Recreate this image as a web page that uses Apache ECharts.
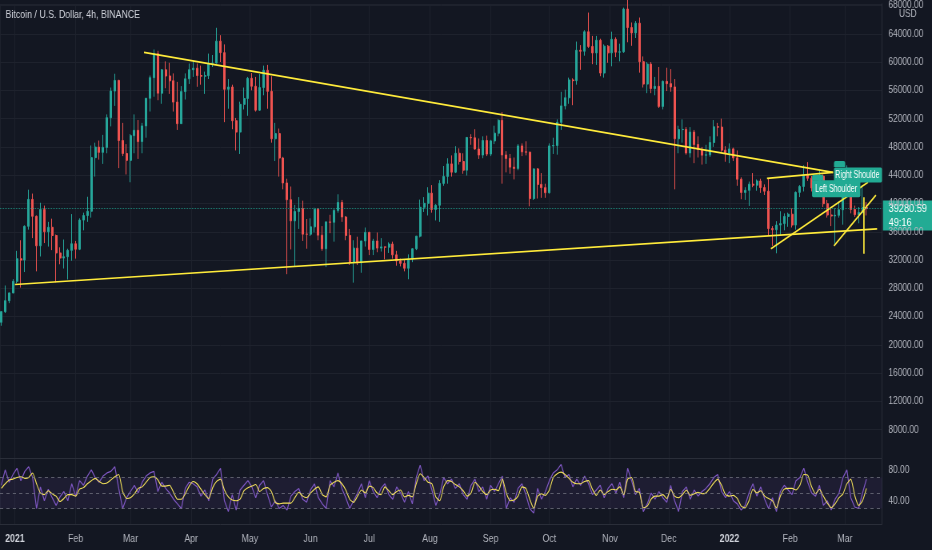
<!DOCTYPE html>
<html lang="en">
<head>
<meta charset="UTF-8">
<title>Bitcoin / U.S. Dollar, 4h</title>
<script src="https://cdn.jsdelivr.net/npm/echarts@6/dist/echarts.min.js"></script>
<style>
    html, body { margin: 0; padding: 0; background: #131722; overflow: hidden; }
    /* the source screenshot is squeezed sideways, so draw wider and scale down */
    #main { width: 1165px; height: 550px; transform: scaleX(0.8); transform-origin: 0 0; }
</style>
</head>
<body>
<div id="main"></div>
<script>
    var DAY = 86400000;
    var SX = 0.8; // horizontal squeeze of the page
    // each bar covers 2 days, first bar centred on 25 Dec 2020
    var firstBar = Date.UTC(2020, 11, 25);
    var barDays = 2;
    var firstOpen = 23200;

    var closes = [
        24700, 26250, 27350, 28990, 32180, 31990, 36770, 40580, 38190, 34010,
        39150, 36000, 36630, 35470, 33000, 32280, 32470, 33370, 34300, 33530,
        37650, 38290, 38900, 46480, 47970, 47230, 47930, 52130, 55900, 57400,
        48900, 47070, 46100, 49590, 50350, 48750, 50970, 54880, 57790, 61180,
        55600, 58900, 58030, 57350, 54340, 51290, 55820, 57630, 58920, 59130,
        58100, 58000, 58080, 59770, 59860, 62960, 61330, 56150, 56470, 51700,
        50100, 54020, 54850, 57700, 56580, 53200, 56390, 58840, 55860, 49150,
        49880, 46430, 42900, 40530, 37540, 38870, 39290, 35660, 35650, 36690,
        39190, 35520, 33590, 37390, 37340, 39020, 40140, 38090, 35480, 31680,
        33680, 31600, 34700, 35910, 33500, 34690, 33690, 33860, 33820, 34260,
        32730, 31880, 31530, 30840, 32140, 33590, 35380, 39460, 40020, 41460,
        39150, 39750, 42840, 43830, 45600, 44430, 47100, 45940, 44710, 49340,
        49290, 47700, 46850, 48900, 46990, 48850, 49940, 51760, 46860, 46370,
        45140, 44960, 48140, 47300, 47260, 40690, 44890, 42700, 42240, 41520,
        48140, 48200, 51470, 53800, 54950, 57470, 57370, 61670, 61530, 64280,
        62210, 61290, 63080, 58450, 62250, 61300, 63220, 61400, 61450, 67500,
        64880, 64120, 65500, 60050, 56890, 59710, 56260, 56570, 53730, 57270,
        56950, 56480, 49150, 50450, 50470, 47140, 50100, 48340, 47630, 46830,
        46880, 48620, 50840, 50800, 47540, 47120, 47720, 46450, 43430, 41560,
        41860, 42730, 42590, 43180, 42250, 41740, 36450, 36280, 36950, 37150,
        38170, 38480, 36950, 41570, 42410, 44040, 43570, 42200, 42540, 43870,
        39970, 38370, 38230, 38330, 39110, 43190, 43920, 39150, 38420, 38730,
        39420, 39280.59
    ];
    var highs = [
        24790, 28400, 27400, 29300, 33300, 34800, 36900, 41950, 41400, 38300,
        40100, 39700, 37400, 37850, 35600, 33800, 34900, 33600, 38500, 34700,
        37900, 38700, 40950, 48200, 48600, 48900, 49700, 52600, 56400, 58350,
        57500, 51400, 48400, 49800, 52600, 51800, 51400, 54900, 58100, 61780,
        61600, 59000, 60100, 59900, 58400, 57200, 56600, 58400, 59800, 60200,
        59800, 59500, 58650, 61200, 61000, 64850, 63800, 62500, 57600, 56800,
        52100, 54400, 56400, 57900, 58450, 57900, 58300, 59500, 59600, 58000,
        51400, 50600, 46600, 43500, 42400, 39800, 40900, 40400, 37800, 37900,
        39400, 39300, 36800, 37500, 38400, 39200, 41300, 40500, 38200, 36400,
        34800, 35300, 34700, 36600, 36000, 35000, 35900, 35100, 33900, 34500,
        34600, 33300, 32200, 32000, 32800, 33650, 35400, 40550, 40900, 42300,
        42600, 39900, 43300, 45300, 46400, 46800, 48100, 47800, 47100, 49400,
        49800, 50500, 49200, 49500, 49600, 49000, 51000, 51900, 52920, 47400,
        47000, 46500, 48400, 48500, 48800, 47300, 44950, 45000, 44300, 42800,
        48500, 49300, 51900, 55800, 56100, 57800, 57700, 62900, 62400, 64500,
        67000, 63700, 63700, 63300, 62500, 62400, 64300, 63500, 62600, 67700,
        69000, 65600, 65800, 66300, 60800, 60000, 60000, 57900, 59300, 57400,
        59200, 59000, 57600, 51000, 51900, 50800, 50800, 50400, 49500, 48000,
        48300, 49500, 51800, 51400, 52000, 48100, 48500, 47900, 47500, 43700,
        42300, 43100, 44300, 43400, 43500, 42700, 43500, 36800, 37500, 38900,
        38600, 38700, 39300, 41700, 42600, 45400, 45850, 43900, 42800, 44700,
        44100, 40500, 39500, 39300, 40300, 44000, 45400, 44100, 39700, 39500,
        42600, 40200
    ];
    var lows = [
        22700, 24500, 25900, 27300, 28700, 28100, 30300, 36300, 35100, 30400,
        32500, 34400, 33900, 33400, 28850, 31400, 30800, 29250, 31900, 32200,
        33400, 36200, 37400, 38000, 43800, 46200, 45600, 47100, 50900, 53800,
        45000, 46700, 44100, 43000, 47100, 46300, 47100, 49300, 53000, 55100,
        54600, 54100, 56300, 55500, 53000, 50400, 51300, 54700, 56900, 57900,
        56500, 56800, 55500, 57600, 59300, 59800, 60000, 51500, 53400, 50500,
        47500, 47000, 53300, 52400, 56000, 53000, 53100, 55300, 53400, 48600,
        46000, 43800, 42000, 30000, 33500, 31100, 36400, 34700, 33600, 35400,
        35900, 34800, 33300, 31000, 35800, 34600, 38700, 37400, 34800, 31300,
        28800, 31300, 30200, 33900, 32700, 32700, 33100, 33200, 32100, 33000,
        32200, 31200, 31100, 30400, 29280, 31700, 33400, 35200, 38800, 38300,
        38700, 37600, 37400, 42500, 42800, 43800, 44300, 45500, 44200, 43950,
        48300, 47600, 46300, 46400, 46700, 46700, 48400, 49500, 42800, 44400,
        44200, 43400, 44700, 46700, 46800, 39600, 40500, 40700, 40800, 40800,
        41400, 47000, 46900, 50400, 53300, 54100, 53900, 56800, 58900, 60900,
        62000, 59700, 59600, 58000, 57800, 59900, 59400, 60700, 60100, 61300,
        62800, 62300, 63400, 58500, 56400, 55600, 55600, 55300, 53500, 53300,
        55900, 55800, 42000, 47100, 48600, 46900, 46500, 45700, 46500, 45500,
        45600, 46600, 48000, 49500, 47300, 45900, 45700, 46000, 42500, 40600,
        40500, 39650, 42300, 41800, 41500, 41200, 35500, 34000, 32950, 35500,
        36200, 36700, 36600, 36300, 40900, 41700, 43200, 41700, 41600, 42400,
        39500, 38000, 36800, 34300, 38000, 37000, 42900, 38600, 38100, 37200,
        38600, 38300
    ];

    // RSI panel (purple) and its moving average (yellow)
    var rsi = [
        60, 80, 64, 74, 82, 66, 78, 84, 70, 30,
        58, 40, 55, 44, 34, 45, 52, 40, 62, 46,
        66, 60, 72, 80, 70, 64, 72, 76, 78, 84,
        56, 30, 44, 52, 60, 50, 64, 72, 76, 78,
        52, 64, 56, 50, 42, 36, 30, 56, 64, 62,
        58, 46, 54, 40, 68, 74, 82, 40, 26, 48,
        28, 54, 60, 66, 58, 44, 60, 66, 48, 32,
        40, 30, 34, 28, 46, 52, 56, 42, 38, 54,
        62, 44, 36, 30, 66, 58, 76, 56, 44, 30,
        40, 50, 62, 44, 66, 52, 44, 56, 62, 48,
        42, 58, 50, 38, 52, 36, 70, 86, 66, 72,
        54, 34, 48, 70, 62, 68, 56, 62, 48, 42,
        60, 68, 52, 58, 42, 60, 52, 62, 72, 30,
        44, 38, 56, 62, 48, 30, 24, 56, 42, 52,
        66, 76, 80, 87, 70, 74, 58, 68, 60, 72,
        62, 48, 54, 60, 44, 56, 62, 50, 64, 44,
        82, 66, 48, 56, 26, 36, 50, 42, 52, 44,
        38, 60, 40, 26, 52, 58, 42, 54, 46, 52,
        56, 62, 70, 74, 52, 44, 52, 40, 36, 28,
        34, 50, 62, 46, 58, 42, 30, 44, 26, 52,
        60, 54, 48, 66, 70, 82, 64, 50, 46, 60,
        34, 40, 28, 42, 50, 70, 80, 44, 32, 30,
        50, 68
    ];
    var rsiMa = [
        56, 62, 67, 68, 70, 71, 69, 70, 76, 62,
        50, 48, 53, 49, 46, 39, 43, 48, 48, 46,
        55, 57, 62, 66, 69, 65, 62, 63, 67, 71,
        74, 52, 43, 44, 49, 56, 58, 64, 70, 71,
        67, 59, 59, 60, 51, 42, 42, 49, 59, 65,
        62, 55, 48, 43, 57, 65, 68, 54, 45, 41,
        40, 42, 53, 57, 59, 61, 52, 56, 57, 52,
        38, 36, 37, 37, 37, 44, 51, 46, 44, 50,
        55, 58, 48, 45, 60, 64, 66, 62, 54, 42,
        38, 46, 54, 50, 59, 57, 50, 48, 58, 53,
        48, 52, 54, 45, 47, 45, 62, 75, 70, 64,
        62, 45, 40, 58, 66, 65, 61, 58, 53, 46,
        50, 64, 59, 52, 48, 54, 55, 53, 68, 50,
        40, 41, 46, 58, 56, 42, 30, 46, 49, 47,
        54, 70, 75, 77, 74, 69, 64, 62, 62, 65,
        66, 55, 47, 54, 48, 52, 55, 54, 58, 48,
        68, 70, 52, 51, 31, 33, 42, 46, 46, 48,
        43, 55, 46, 44, 48, 54, 47, 49, 51, 49,
        50, 56, 63, 68, 60, 48, 46, 47, 43, 33,
        31, 40, 55, 50, 53, 46, 43, 40, 31, 46,
        55, 56, 56, 54, 60, 74, 73, 58, 49, 55,
        46, 37, 31, 36, 44, 49, 62, 68, 47, 34,
        40, 56
    ];

    var monthNames = ['Jan', 'Feb', 'Mar', 'Apr', 'May', 'Jun', 'Jul', 'Aug', 'Sep', 'Oct', 'Nov', 'Dec'];

    // drawn trend lines, [time, price] end points (UTC)
    var trendLines = [
        [['2021-03-07T22:00', 61360], ['2022-02-22T22:00', 44390]],
        [['2021-01-01T00:00', 28540], ['2022-03-17T10:00', 36400]],
        [['2022-01-20T05:00', 43550], ['2022-02-22T22:00', 44390]],
        [['2022-01-22T05:00', 33590], ['2022-03-12T19:00', 42990]],
        [['2022-02-23T10:00', 34010], ['2022-03-16T20:00', 41170]],
        [['2022-03-10T17:00', 40890], ['2022-03-10T17:00', 32890]]
    ];
    // callout notes: text, time, price (left edge, vertical middle)
    var notes = [
        ['Right Shoulder', '2022-02-23T10:00', 44040],
        ['Left Shoulder', '2022-02-12T05:00', 42080]
    ];
    var lastTime = '49:16';

    function toTime(s) { return Date.parse(s + ':00Z'); }

    var candles = [], rsiData = [], maData = [];
    for (var i = 0; i < closes.length; i++) {
        var t = firstBar + i * barDays * DAY;
        var o = i === 0 ? firstOpen : closes[i - 1];
        candles.push([t, o, closes[i], lows[i], highs[i]]);
        rsiData.push([t, rsi[i]]);
        maData.push([t, rsiMa[i]]);
    }

    var xMin = Date.UTC(2021, 0, 1) - 7.66 * DAY;
    var xMax = xMin + 450.6 * DAY;
    var font = "'Liberation Sans', Roboto, sans-serif";
    var txt = '#b2b5be';
    var gridLine = '#1e222d';
    var sep = '#2a2e39';
    var teal = '#22ab94';
    var plotRight = 882 / SX; // right edge of the plots, in page units

    var myChart = echarts.init(document.getElementById('main'));

    var lineSeries = trendLines.map(function (l) {
        return {
            type: 'line',
            xAxisIndex: 0,
            yAxisIndex: 0,
            data: [[toTime(l[0][0]), l[0][1]], [toTime(l[1][0]), l[1][1]]],
            showSymbol: false,
            symbol: 'none',
            silent: true,
            z: 4,
            lineStyle: { color: '#ffeb3b', width: 1.7 }
        };
    });

    function timeAxis(idx, showLabels) {
        return {
            type: 'time',
            gridIndex: idx,
            min: xMin,
            max: xMax,
            splitNumber: 15,
            minInterval: 28 * DAY,
            maxInterval: 31 * DAY,
            axisLine: { show: true, lineStyle: { color: sep } },
            axisTick: { show: false },
            splitLine: { show: true, lineStyle: { color: gridLine, width: 1 } },
            axisLabel: {
                show: showLabels,
                color: txt,
                fontSize: 11,
                margin: 9,
                formatter: function (v) {
                    var d = new Date(v);
                    if (d.getUTCMonth() === 0) return '{y|' + d.getUTCFullYear() + '}';
                    return monthNames[d.getUTCMonth()];
                },
                rich: { y: { fontWeight: 'bold', color: '#d1d4dc', fontSize: 11 } }
            }
        };
    }

    var option = {
        backgroundColor: '#131722',
        animation: false,
        useUTC: true,
        textStyle: { fontFamily: font },
        grid: [
            { left: 0, right: 1165 - plotRight, top: 0, height: 458 },
            { left: 0, right: 1165 - plotRight, top: 459, height: 65 }
        ],
        xAxis: [timeAxis(0, false), timeAxis(1, true)],
        yAxis: [
            {
                type: 'value',
                gridIndex: 0,
                position: 'right',
                min: 4000,
                max: 68240,
                interval: 4000,
                axisLine: { show: true, lineStyle: { color: sep } },
                axisTick: { show: false },
                splitLine: { lineStyle: { color: gridLine } },
                axisLabel: {
                    color: txt,
                    fontSize: 10.5,
                    margin: 8,
                    formatter: function (v) {
                        return (v >= 8000 && v % 4000 === 0) ? v.toFixed(2) : '';
                    }
                }
            },
            {
                type: 'value',
                gridIndex: 1,
                position: 'right',
                min: 10,
                max: 94,
                interval: 10,
                axisLine: { show: true, lineStyle: { color: sep } },
                axisTick: { show: false },
                splitLine: { show: false },
                axisLabel: {
                    color: txt,
                    fontSize: 10.5,
                    margin: 8,
                    formatter: function (v) {
                        return (v === 40 || v === 80) ? v.toFixed(2) : '';
                    }
                }
            }
        ],
        series: [
            {
                type: 'candlestick',
                xAxisIndex: 0,
                yAxisIndex: 0,
                data: candles,
                encode: { x: 0, y: [1, 2, 3, 4] },
                barWidth: 2.5,
                z: 2,
                itemStyle: {
                    color: '#26a69a',
                    color0: '#ef5350',
                    borderColor: '#26a69a',
                    borderColor0: '#ef5350',
                    borderWidth: 1
                },
                markLine: {
                    silent: true,
                    symbol: 'none',
                    label: { show: false },
                    lineStyle: { color: teal, type: 'dotted', width: 1, opacity: 0.7 },
                    data: [{ yAxis: closes[closes.length - 1] }]
                }
            },
            {
                type: 'line',
                xAxisIndex: 1,
                yAxisIndex: 1,
                data: rsiData,
                showSymbol: false,
                symbol: 'none',
                z: 2,
                lineStyle: { color: '#7e57c2', width: 1.2 },
                markArea: {
                    silent: true,
                    itemStyle: { color: 'rgba(126,87,194,0.1)' },
                    data: [[{ yAxis: 30 }, { yAxis: 70 }]]
                },
                markLine: {
                    silent: true,
                    symbol: 'none',
                    label: { show: false },
                    lineStyle: { color: '#787b86', type: [4, 4], width: 1, opacity: 0.7 },
                    data: [{ yAxis: 70 }, { yAxis: 50 }, { yAxis: 30 }]
                }
            },
            {
                type: 'line',
                xAxisIndex: 1,
                yAxisIndex: 1,
                data: maData,
                showSymbol: false,
                symbol: 'none',
                smooth: 0.2,
                z: 3,
                lineStyle: { color: '#f2e05a', width: 1.1 }
            }
        ].concat(lineSeries)
    };

    myChart.setOption(option);

    // overlays placed with the chart's own scales
    var last = closes[closes.length - 1];
    var py = myChart.convertToPixel({ yAxisIndex: 0 }, last);
    var overlay = [
        {
            type: 'text', left: 7, top: 9, z: 20,
            style: { text: 'Bitcoin / U.S. Dollar, 4h, BINANCE', fill: '#d1d4dc', font: '11px ' + font }
        },
        {
            type: 'text', x: 899 / SX, y: 9, z: 20,
            style: { text: 'USD', fill: txt, font: '10.5px ' + font }
        },
        {
            type: 'group', x: 883 / SX, y: py - 8, z: 20,
            children: [
                { type: 'rect', shape: { x: 0, y: 0, width: 49 / SX + 2, height: 30 }, style: { fill: teal } },
                { type: 'text', x: 7, y: 8, style: { text: last.toFixed(2), fill: '#fff', font: '11.5px ' + font, verticalAlign: 'middle' } },
                { type: 'text', x: 7, y: 22, style: { text: lastTime, fill: '#fff', font: '11.5px ' + font, verticalAlign: 'middle' } }
            ]
        }
    ];
    var noteScale = 0.8; // callout text is set tighter than the axis text
    notes.forEach(function (n, k) {
        var p = myChart.convertToPixel({ gridIndex: 0 }, [toTime(n[1]), n[2]]);
        var st = {
            text: n[0], fill: '#fff', font: '11px ' + font,
            backgroundColor: teal, padding: k === 0 ? [2, 2] : [3, 5], borderRadius: 2,
            verticalAlign: 'middle', align: 'left'
        };
        if (k === 0) { st.width = (plotRight - p[0]) / noteScale - 4; st.overflow = 'truncate'; st.ellipsis = ''; }
        overlay.push({ type: 'rect', z: 21, shape: { x: p[0], y: p[1] - 14, width: 14, height: 6, r: [2, 2, 0, 0] }, style: { fill: teal } });
        overlay.push({ type: 'text', x: p[0], y: p[1], scaleX: noteScale, z: 22, style: st });
    });
    myChart.setOption({ graphic: overlay });
</script>
</body>
</html>
